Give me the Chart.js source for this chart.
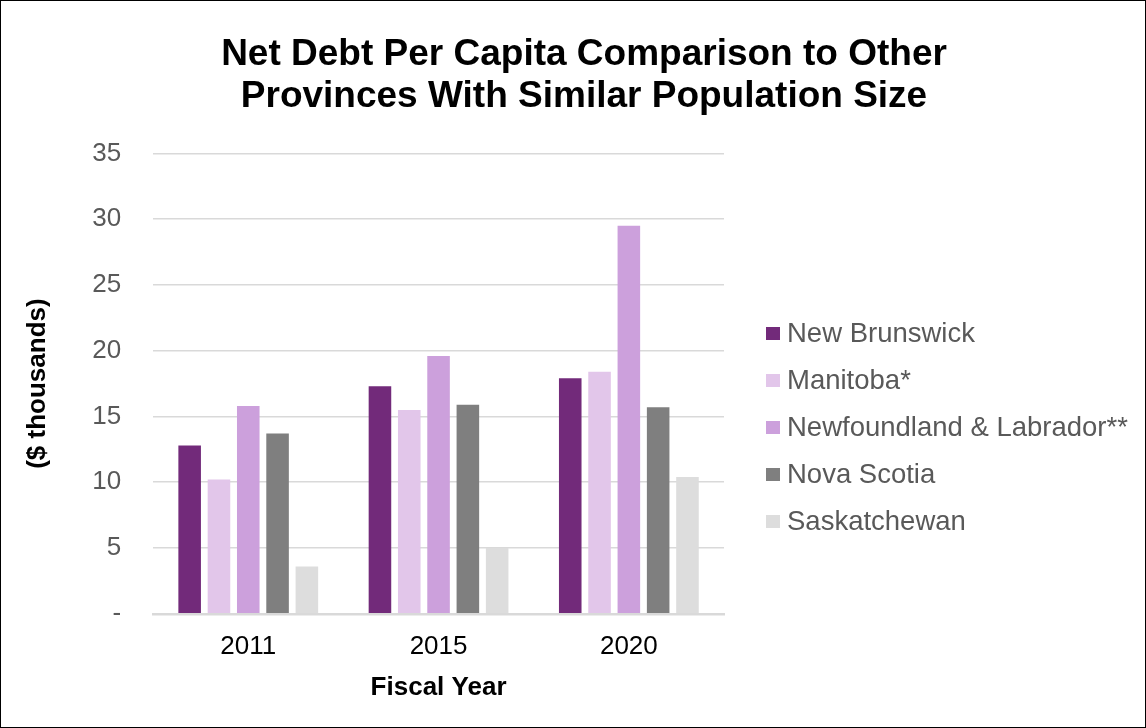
<!DOCTYPE html>
<html>
<head>
<meta charset="utf-8">
<script src="https://cdn.jsdelivr.net/npm/chart.js@4.4.1/dist/chart.umd.min.js"></script>
<style>
  html, body { margin: 0; padding: 0; background: #fff; }
  #wrap { position: relative; width: 1146px; height: 728px; font-family: 'Liberation Sans', Arial, sans-serif; }
  #frame { position: absolute; left: 0; top: 0; width: 1146px; height: 728px;
           box-sizing: border-box; border: 1.5px solid #000; pointer-events: none; }
  #legend { position: absolute; left: 766px; top: 318px; margin: 0; padding: 0; list-style: none; }
  #legend li { display: flex; align-items: center; height: 30px; margin-bottom: 17px;
               font-size: 27.5px; color: #595959; white-space: nowrap; }
  #legend span.box { display: inline-block; width: 14px; height: 13px; margin-right: 7px; }
</style>
</head>
<body>
<div id="wrap">
  <canvas id="debtChart" width="1146" height="728"></canvas>
  <ul id="legend"></ul>
  <div id="frame"></div>
</div>
<script>
const years = ["2011", "2015", "2020"];
const provinces = ["New Brunswick", "Manitoba*", "Newfoundland & Labrador**", "Nova Scotia", "Saskatchewan"];
const newBrunswick = [12.8, 17.3, 17.9];
const manitoba = [10.2, 15.5, 18.4];
const newfoundland = [15.8, 19.6, 29.5];
const novaScotia = [13.7, 15.9, 15.7];
const saskatchewan = [3.6, 5.0, 10.4];
const colors = ["#722A7A", "#E2C6EA", "#CCA0DC", "#7F7F7F", "#DDDDDD"];

const font = "'Liberation Sans', Arial, sans-serif";
const seriesValues = [newBrunswick, manitoba, newfoundland, novaScotia, saskatchewan];

const ctx = document.getElementById("debtChart").getContext("2d");
const chart = new Chart(ctx, {
  type: "bar",
  data: {
    labels: years,
    datasets: provinces.map((name, i) => ({
      label: name,
      data: seriesValues[i],
      backgroundColor: colors[i],
      borderWidth: 0,
      categoryPercentage: 0.77,
      barPercentage: 0.77,
    })),
  },
  options: {
    responsive: false,
    animation: false,
    layout: { padding: { left: 22, right: 0, top: 0, bottom: 13 } },
    plugins: {
      tooltip: { enabled: false },
      legend: { display: false },
      title: {
        display: true,
        text: ["Net Debt Per Capita Comparison to Other", "Provinces With Similar Population Size"],
        color: "#000",
        font: { family: font, size: 37, weight: "bold", lineHeight: 1.14 },
        padding: { top: 34, bottom: 35 },
      },
    },
    scales: {
      x: {
        grid: { display: false },
        border: { display: true, color: "#D9D9D9", width: 2.5 },
        ticks: { color: "#000", font: { family: font, size: 26, lineHeight: 1.0 }, padding: 12 },
        title: {
          display: true,
          text: "Fiscal Year",
          color: "#000",
          font: { family: font, size: 26, weight: "bold" },
          padding: { top: 0, bottom: 12 },
        },
      },
      y: {
        min: 0,
        max: 35,
        ticks: {
          stepSize: 5,
          color: "#595959",
          font: { family: font, size: 26 },
          padding: 32,
          callback: (v) => (v === 0 ? "-" : v),
        },
        grid: { color: "#D9D9D9", lineWidth: 1.5, drawTicks: false },
        border: { display: false },
        title: {
          display: true,
          text: "($ thousands)",
          color: "#000",
          font: { family: font, size: 26, weight: "bold" },
          padding: { top: 0, bottom: 7 },
        },
      },
      // empty right-hand axis that only reserves room for the legend
      legendSpace: {
        position: "right",
        grid: { display: false },
        border: { display: false },
        ticks: { display: false },
        afterFit: (scale) => { scale.width = 422; },
      },
    },
  },
});

// legend built from the chart's own legend items
const legendList = document.getElementById("legend");
chart.options.plugins.legend.labels.generateLabels(chart).forEach((item) => {
  const li = document.createElement("li");
  const box = document.createElement("span");
  box.className = "box";
  box.style.background = item.fillStyle;
  li.appendChild(box);
  li.appendChild(document.createTextNode(item.text));
  legendList.appendChild(li);
});
</script>
</body>
</html>
